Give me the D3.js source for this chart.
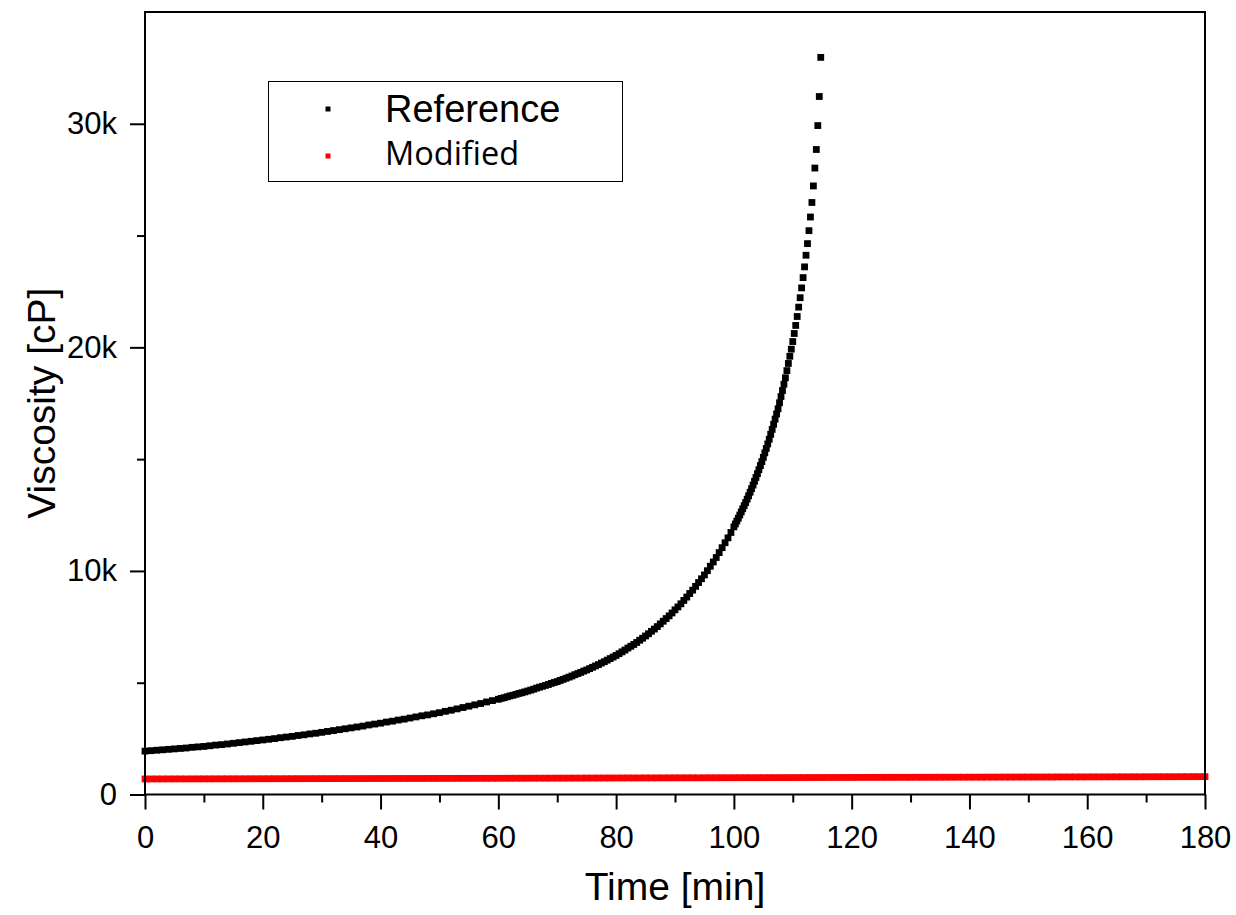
<!DOCTYPE html>
<html>
<head>
<meta charset="utf-8">
<script src="https://cdn.jsdelivr.net/npm/d3@7"></script>
<style>
  body { margin: 0; background: #fff; }
  text { font-family: "Liberation Sans", Arial, sans-serif; fill: #000; }
</style>
</head>
<body>
<svg width="1236" height="915"></svg>
<script>
// Reference sample in three sampling blocks (cP)
// block 1: t = 0 .. 59 min, every 1 min
var refSlowStart = 0, refSlowStep = 1;
var refSlow = [
    1940, 1960, 1980, 2000, 2020, 2040, 2060, 2080, 2110, 2130,
    2150, 2180, 2210, 2230, 2260, 2290, 2320, 2350, 2380, 2410,
    2440, 2470, 2500, 2540, 2570, 2600, 2640, 2670, 2710, 2740,
    2780, 2820, 2860, 2900, 2940, 2980, 3020, 3060, 3110, 3150,
    3190, 3240, 3280, 3330, 3370, 3420, 3470, 3520, 3560, 3610,
    3660, 3720, 3770, 3830, 3890, 3950, 4010, 4070, 4140, 4200
];
// block 2: t = 60 .. 99.5 min, every 0.5 min
var refMidStart = 60, refMidStep = 0.5;
var refMid = [
    4260, 4300, 4330, 4370, 4410, 4440, 4480, 4520, 4550, 4590,
    4630, 4670, 4710, 4760, 4800, 4840, 4880, 4920, 4970, 5010,
    5050, 5100, 5150, 5200, 5250, 5300, 5360, 5410, 5460, 5520,
    5570, 5630, 5690, 5750, 5810, 5880, 5940, 6010, 6080, 6150,
    6220, 6300, 6380, 6460, 6550, 6630, 6710, 6800, 6900, 6990,
    7090, 7190, 7300, 7400, 7510, 7630, 7750, 7870, 7990, 8120,
    8260, 8390, 8530, 8680, 8830, 8990, 9140, 9310, 9480, 9650,
    9820, 10010, 10210, 10400, 10600, 10820, 11040, 11260, 11480, 11720
];
// block 3: t = 100 .. 114.75 min, every 0.25 min
var refFastStart = 100, refFastStep = 0.25;
var refFast = [
    11970, 12100, 12230, 12360, 12500, 12640, 12780, 12920,
    13060, 13210, 13360, 13520, 13680, 13840, 14010, 14180,
    14350, 14530, 14710, 14890, 15080, 15280, 15480, 15680,
    15890, 16110, 16330, 16560, 16790, 17020, 17250, 17520,
    17800, 18070, 18350, 18640, 18960, 19280, 19600, 19920,
    20260, 20620, 20980, 21380, 21800, 22220, 22660, 23120,
    23600, 24120, 24640, 25220, 25830, 26480, 27220, 28020,
    28850, 29920, 31220, 32970
];

// Modified sample, t = 0 .. 180 min, every 1 min (cP)
var modStart = 0, modStep = 1;
var modValues = [
    695, 695, 696, 696, 697, 697, 698, 698, 699, 699, 700,
    700, 701, 701, 702, 702, 703, 703, 704, 704, 705,
    705, 706, 706, 707, 707, 708, 708, 709, 709, 710,
    710, 711, 711, 712, 712, 713, 713, 714, 714, 715,
    715, 716, 716, 717, 717, 718, 718, 719, 719, 720,
    720, 721, 721, 722, 722, 723, 723, 724, 724, 725,
    726, 726, 727, 728, 728, 729, 730, 730, 731, 732,
    732, 733, 734, 734, 735, 736, 736, 737, 738, 738,
    739, 740, 740, 741, 742, 742, 743, 744, 744, 745,
    746, 746, 747, 747, 748, 749, 749, 750, 750, 751,
    752, 752, 753, 753, 754, 755, 755, 756, 756, 757,
    758, 758, 759, 759, 760, 761, 761, 762, 762, 763,
    764, 764, 765, 765, 766, 767, 767, 768, 768, 769,
    770, 770, 771, 771, 772, 773, 773, 774, 774, 775,
    776, 776, 777, 777, 778, 779, 779, 780, 780, 781,
    782, 782, 783, 783, 784, 785, 785, 786, 786, 787,
    788, 788, 789, 789, 790, 791, 791, 792, 792, 793,
    794, 794, 795, 795, 796, 797, 797, 798, 798, 799
];

var xMajorTicks = [0, 20, 40, 60, 80, 100, 120, 140, 160, 180];
var xMinorTicks = [10, 30, 50, 70, 90, 110, 130, 150, 170];
var yMajorTicks = [0, 10000, 20000, 30000];
var yMinorTicks = [5000, 15000, 25000];

var seriesNames = ['Reference', 'Modified'];
var seriesColors = ['#000000', '#ff0000'];

function toPoints(values, start, step) {
    return values.map(function (v, i) { return { t: start + i * step, v: v }; });
}

var refData = toPoints(refSlow, refSlowStart, refSlowStep)
    .concat(toPoints(refMid, refMidStart, refMidStep))
    .concat(toPoints(refFast, refFastStart, refFastStep));
var modData = toPoints(modValues, modStart, modStep);

var svg = d3.select('svg');
var plot = { l: 145, r: 1205, t: 12, b: 794.5 };

var x = d3.scaleLinear().domain([0, 180]).range([plot.l, plot.r]);
var y = d3.scaleLinear().domain([0, 35000]).range([plot.b, plot.t]);

// markers
var markerSize = 6.8;
function drawSeries(data, color) {
    svg.append('g').selectAll('rect')
        .data(data)
        .enter()
        .append('rect')
        .attr('x', d => x(d.t) - markerSize / 2)
        .attr('y', d => y(d.v) - markerSize / 2)
        .attr('width', markerSize)
        .attr('height', markerSize)
        .attr('fill', color);
}
drawSeries(modData, seriesColors[1]);
drawSeries(refData, seriesColors[0]);

// axes
function fmtK(d) { return d === 0 ? '0' : (d / 1000) + 'k'; }

var xAxisG = svg.append('g')
    .attr('transform', `translate(0, ${plot.b})`)
    .call(d3.axisBottom(x).tickValues(xMajorTicks).tickSize(15).tickPadding(16));
var xMinorG = svg.append('g')
    .attr('transform', `translate(0, ${plot.b})`)
    .call(d3.axisBottom(x).tickValues(xMinorTicks).tickSize(8).tickFormat(''));

var yAxisG = svg.append('g')
    .attr('transform', `translate(${plot.l}, 0)`)
    .call(d3.axisLeft(y).tickValues(yMajorTicks).tickSize(15).tickPadding(13).tickFormat(fmtK));
var yMinorG = svg.append('g')
    .attr('transform', `translate(${plot.l}, 0)`)
    .call(d3.axisLeft(y).tickValues(yMinorTicks).tickSize(8).tickFormat(''));

[xAxisG, xMinorG, yAxisG, yMinorG].forEach(function (g) {
    g.select('.domain').remove();
    g.selectAll('line').attr('stroke', '#000').attr('stroke-width', 2);
    g.selectAll('text')
        .style('font-family', '"Liberation Sans", Arial, sans-serif')
        .style('font-size', '31px')
        .attr('fill', '#000');
});

// frame
svg.append('rect')
    .attr('x', plot.l)
    .attr('y', plot.t)
    .attr('width', plot.r - plot.l)
    .attr('height', plot.b - plot.t)
    .attr('fill', 'none')
    .attr('stroke', '#000')
    .attr('stroke-width', 2);

// axis titles
svg.append('text')
    .attr('x', (plot.l + plot.r) / 2)
    .attr('y', 900)
    .attr('text-anchor', 'middle')
    .style('font-size', '39px')
    .text('Time [min]');

svg.append('text')
    .attr('transform', `translate(55, ${(plot.t + plot.b) / 2}) rotate(-90)`)
    .attr('text-anchor', 'middle')
    .style('font-size', '39px')
    .text('Viscosity [cP]');

// legend
var legend = svg.append('g');
legend.append('rect')
    .attr('x', 268.5)
    .attr('y', 81.5)
    .attr('width', 354)
    .attr('height', 100)
    .attr('fill', '#fff')
    .attr('stroke', '#000')
    .attr('stroke-width', 1);

var legendRows = [
    { name: seriesNames[0], color: seriesColors[0], cy: 109, base: 122, font: '"Liberation Sans", Arial, sans-serif', size: '38px' },
    { name: seriesNames[1], color: seriesColors[1], cy: 156, base: 165, font: '"Open Sans", "Noto Sans", sans-serif', size: '32.5px' }
];
legendRows.forEach(function (row) {
    legend.append('rect')
        .attr('x', 328 - 2.5)
        .attr('y', row.cy - 2.5)
        .attr('width', 5)
        .attr('height', 5)
        .attr('fill', row.color);
    legend.append('text')
        .attr('x', 385)
        .attr('y', row.base)
        .style('font-family', row.font)
        .style('font-size', row.size)
        .text(row.name);
});
</script>
</body>
</html>
